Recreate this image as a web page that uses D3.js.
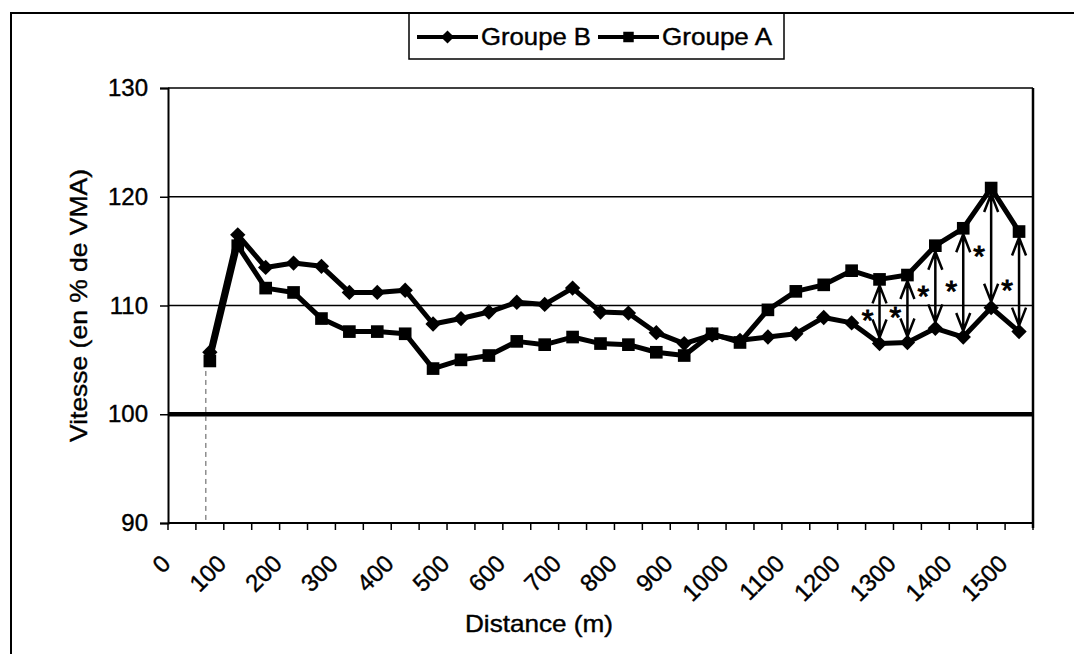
<!DOCTYPE html>
<html>
<head>
<meta charset="utf-8">
<script src="https://cdn.jsdelivr.net/npm/d3@7"></script>
<style>
  body { margin: 0; background: #fff; }
  svg text { font-family: "Liberation Sans", Arial, sans-serif; fill: #000; stroke: #000; stroke-width: 0.4px; }
</style>
</head>
<body>
<div id="chart"></div>
<script>
// categories (m), every 50 m, only every other one is labelled
const distances = d3.range(0, 1501, 50)
const tickLabels = [0, 100, 200, 300, 400, 500, 600, 700, 800, 900, 1000, 1100, 1200, 1300, 1400, 1500]

// values, from 50 m to 1500 m
const measured = [50, 100, 150, 200, 250, 300, 350, 400, 450, 500, 550, 600, 650, 700, 750,
  800, 850, 900, 950, 1000, 1050, 1100, 1150, 1200, 1250, 1300, 1350, 1400, 1450, 1500]
const groupeB = [105.7, 116.5, 113.5, 113.9, 113.6, 111.2, 111.2, 111.4, 108.3, 108.8, 109.4, 110.3, 110.1, 111.6, 109.4,
  109.3, 107.5, 106.5, 107.3, 106.8, 107.1, 107.4, 108.9, 108.4, 106.5, 106.6, 107.9, 107.1, 109.8, 107.6]
const groupeA = [104.9, 115.5, 111.6, 111.2, 108.8, 107.6, 107.6, 107.4, 104.2, 105.0, 105.4, 106.7, 106.4, 107.1, 106.5,
  106.4, 105.7, 105.4, 107.4, 106.6, 109.6, 111.3, 111.9, 113.2, 112.4, 112.8, 115.5, 117.1, 120.8, 116.8]
// distances with a significant difference (*)
const significant = [1250, 1300, 1350, 1400, 1450, 1500]

const yTicks = [90, 100, 110, 120, 130]

const width = 1074
const height = 654
const plotLeft = 168, plotRight = 1033, plotTop = 88, plotBottom = 523

const svg = d3.select('#chart')
  .append('svg')
  .attr('width', width)
  .attr('height', height)

// outer frame (top and left edges only visible)
svg.append('path')
  .attr('d', `M11,${height} V13 H${width}`)
  .attr('fill', 'none')
  .attr('stroke', '#000')
  .attr('stroke-width', 2)

const xScale = d3.scaleBand()
  .domain(distances)
  .range([plotLeft, plotRight])
  .paddingInner(0)

const yScale = d3.scaleLinear()
  .domain([90, 130])
  .range([plotBottom, plotTop])

const cx = d => xScale(d) + xScale.bandwidth() / 2

// gridlines
svg.append('g')
  .selectAll('line')
  .data(yTicks.filter(v => v > 90))
  .enter()
  .append('line')
  .attr('x1', plotLeft)
  .attr('x2', plotRight)
  .attr('y1', d => yScale(d))
  .attr('y2', d => yScale(d))
  .attr('stroke', '#000')
  .attr('stroke-width', d => d === 100 ? 4.5 : 1.5)

// right border of the plot
svg.append('line')
  .attr('x1', plotRight).attr('x2', plotRight)
  .attr('y1', plotTop).attr('y2', plotBottom + 5)
  .attr('stroke', '#000')
  .attr('stroke-width', 2.5)

// y axis
const yAxis = d3.axisLeft(yScale)
  .tickValues(yTicks)
  .tickSize(8)
  .tickPadding(12)

svg.append('g')
  .attr('id', 'y-axis')
  .attr('transform', `translate(${plotLeft}, 0)`)
  .call(yAxis)
  .call(g => g.select('.domain').attr('stroke-width', 2))
  .call(g => g.selectAll('.tick line').attr('stroke-width', 1.5))
  .call(g => g.selectAll('.tick text').attr('font-size', 24).attr('font-family', '"Liberation Sans", Arial, sans-serif'))

// x axis: ticks between categories
const bounds = d3.range(distances.length + 1).map(i => plotLeft + i * xScale.bandwidth())
svg.append('line')
  .attr('x1', plotLeft).attr('x2', plotRight)
  .attr('y1', plotBottom).attr('y2', plotBottom)
  .attr('stroke', '#000')
  .attr('stroke-width', 2)

svg.append('g')
  .selectAll('line')
  .data(bounds)
  .enter()
  .append('line')
  .attr('x1', d => d).attr('x2', d => d)
  .attr('y1', plotBottom).attr('y2', plotBottom + 7)
  .attr('stroke', '#000')
  .attr('stroke-width', 1.5)

svg.append('g')
  .selectAll('text')
  .data(tickLabels)
  .enter()
  .append('text')
  .attr('transform', d => `translate(${cx(d) - 10}, ${plotBottom + 42}) rotate(-45)`)
  .attr('text-anchor', 'end')
  .attr('font-size', 24)
  .text(d => d)

// axis titles
svg.append('text')
  .attr('transform', `translate(87, ${(plotTop + plotBottom) / 2}) rotate(-90)`)
  .attr('text-anchor', 'middle')
  .attr('font-size', 24)
  .attr('textLength', 273)
  .attr('lengthAdjust', 'spacingAndGlyphs')
  .text('Vitesse (en % de VMA)')

svg.append('text')
  .attr('x', 539)
  .attr('y', 632)
  .attr('text-anchor', 'middle')
  .attr('font-size', 24)
  .attr('textLength', 148)
  .attr('lengthAdjust', 'spacingAndGlyphs')
  .text('Distance (m)')

// dashed drop line under the first point
svg.append('line')
  .attr('x1', cx(measured[0]) - 4).attr('x2', cx(measured[0]) - 4)
  .attr('y1', yScale(groupeA[0]) + 10).attr('y2', plotBottom)
  .attr('stroke', '#555')
  .attr('stroke-width', 1)
  .attr('stroke-dasharray', '5,4')

// series
const line = d3.line()
  .x(d => cx(d.x))
  .y(d => yScale(d.y))

const seriesB = measured.map((x, i) => ({ x: x, y: groupeB[i] }))
const seriesA = measured.map((x, i) => ({ x: x, y: groupeA[i] }))

const diamond = d3.symbol().type(d3.symbolDiamond2).size(150)
const square = d3.symbol().type(d3.symbolSquare).size(160)

svg.append('path')
  .datum(seriesB)
  .attr('d', line)
  .attr('fill', 'none')
  .attr('stroke', '#000')
  .attr('stroke-width', 5)
  .attr('stroke-linejoin', 'round')

svg.append('path')
  .datum(seriesA)
  .attr('d', line)
  .attr('fill', 'none')
  .attr('stroke', '#000')
  .attr('stroke-width', 5)
  .attr('stroke-linejoin', 'round')

svg.append('g')
  .selectAll('path')
  .data(seriesB)
  .enter()
  .append('path')
  .attr('d', diamond)
  .attr('transform', d => `translate(${cx(d.x)}, ${yScale(d.y)})`)
  .attr('fill', '#000')

svg.append('g')
  .selectAll('path')
  .data(seriesA)
  .enter()
  .append('path')
  .attr('d', square)
  .attr('transform', d => `translate(${cx(d.x)}, ${yScale(d.y)})`)
  .attr('fill', '#000')

// double arrows + stars on the significant distances
const sig = significant.map(x => {
  const i = measured.indexOf(x)
  return { x: x, a: groupeA[i], b: groupeB[i] }
})

const arrows = svg.append('g')
  .selectAll('g')
  .data(sig)
  .enter()
  .append('g')

arrows.append('path')
  .attr('d', d => {
    const x = cx(d.x)
    const y1 = yScale(d.a) + 6
    const y2 = yScale(d.b) - 6
    return `M${x},${y1} V${y2}` +
      ` M${x - 7},${y1 + 18} L${x},${y1} L${x + 7},${y1 + 18}` +
      ` M${x - 7},${y2 - 18} L${x},${y2} L${x + 7},${y2 - 18}`
  })
  .attr('fill', 'none')
  .attr('stroke', '#000')
  .attr('stroke-width', 2.5)

arrows.append('text')
  .attr('x', d => cx(d.x) - 12)
  .attr('y', d => (yScale(d.a) + yScale(d.b)) / 2)
  .attr('dy', '0.62em')
  .attr('text-anchor', 'middle')
  .attr('font-size', 30)
  .style('stroke-width', '1px')
  .text('*')

// legend
const legend = svg.append('g')
svg.append('rect')
  .attr('x', 409).attr('y', 13)
  .attr('width', 375).attr('height', 46)
  .attr('fill', 'none')
  .attr('stroke', '#000')
  .attr('stroke-width', 1.5)

const legendItems = [
  { name: 'Groupe B', symbol: diamond, x: 417 },
  { name: 'Groupe A', symbol: square, x: 598 }
]

const item = legend.selectAll('g')
  .data(legendItems)
  .enter()
  .append('g')
  .attr('transform', d => `translate(${d.x}, 37)`)

item.append('line')
  .attr('x1', 0).attr('x2', 61)
  .attr('stroke', '#000')
  .attr('stroke-width', 4)

item.append('path')
  .attr('d', d => d.symbol.size(110)())
  .attr('transform', 'translate(30.5, 0)')
  .attr('fill', '#000')

item.append('text')
  .attr('x', 64)
  .attr('y', 8)
  .attr('font-size', 24)
  .attr('textLength', 110)
  .attr('lengthAdjust', 'spacingAndGlyphs')
  .text(d => d.name)
</script>
</body>
</html>
